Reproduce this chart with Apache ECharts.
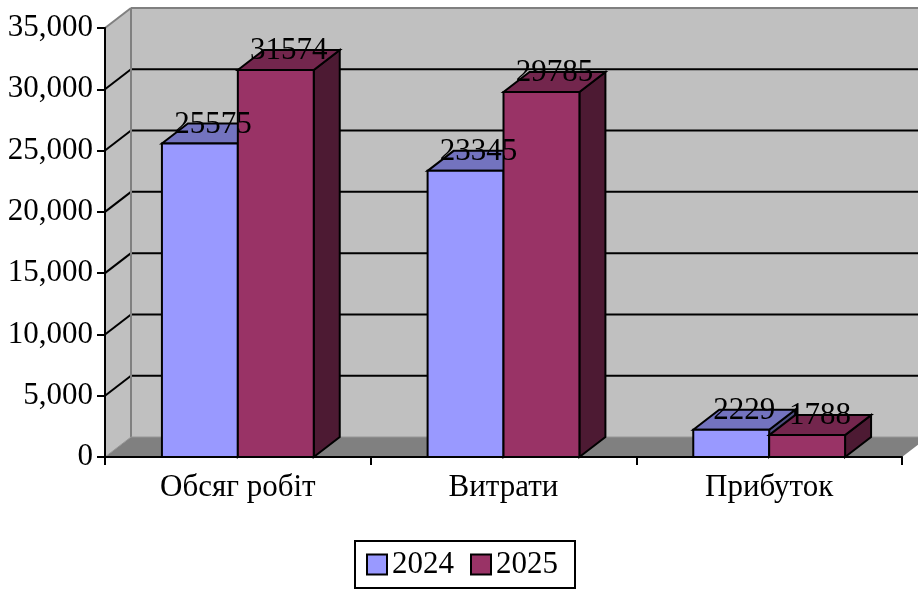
<!DOCTYPE html>
<html>
<head>
<meta charset="utf-8">
<style>html,body{margin:0;padding:0;background:#fff}#chart{width:918px;height:593px}</style>
<script src="https://cdn.jsdelivr.net/npm/echarts@6/dist/echarts.min.js"></script>
</head>
<body>
<div id="chart"></div>
<script>
const categories = ['Обсяг робіт', 'Витрати', 'Прибуток'];
const values2024 = [25575, 23345, 2229];
const values2025 = [31574, 29785, 1788];
const yTicks = [5000, 10000, 15000, 20000, 25000, 30000];
const yMax = 35000;

// oblique projection offset of the chart's depth axis, in pixels
const DEPTH_X = 26;
const DEPTH_Y = 20;
const FONT = '"Liberation Serif", "Times New Roman", serif';
const FONT_SIZE = 31;
const GAP_WIDTH = 1.5;

function poly(points, fill, stroke, lineWidth) {
  return {
    type: 'polygon',
    shape: { points },
    style: { fill, stroke, lineWidth, lineJoin: 'miter' }
  };
}

function segment(a, b, stroke, lineWidth) {
  return {
    type: 'line',
    shape: { x1: a[0], y1: a[1], x2: b[0], y2: b[1] },
    style: { stroke, lineWidth, lineCap: 'butt' }
  };
}

// Walls, floor and depth-wise grid lines behind the bars
function renderWalls(params, api) {
  const origin = api.coord([0, 0]);
  const band = api.size([1, 0])[0];
  const x0 = origin[0] - band / 2;
  const y0 = origin[1];
  const x1 = x0 + band * categories.length;
  const yTop = api.coord([0, yMax])[1];
  const bx0 = x0 + DEPTH_X, bx1 = x1 + DEPTH_X;
  const edge = '#808080';
  const children = [
    poly([[bx0, yTop - DEPTH_Y], [bx1, yTop - DEPTH_Y], [bx1, y0 - DEPTH_Y], [bx0, y0 - DEPTH_Y]], '#c0c0c0'),
    poly([[x0, yTop], [bx0, yTop - DEPTH_Y], [bx0, y0 - DEPTH_Y], [x0, y0]], '#c0c0c0'),
    poly([[x0, y0], [bx0, y0 - DEPTH_Y], [bx1, y0 - DEPTH_Y], [x1, y0]], '#808080')
  ];
  yTicks.forEach(function (t) {
    const y = api.coord([0, t])[1];
    children.push(segment([x0, y], [bx0, y - DEPTH_Y], '#000', 2));
    children.push(segment([bx0, y - DEPTH_Y], [bx1, y - DEPTH_Y], '#000', 2));
  });
  children.push(segment([x0, yTop], [bx0, yTop - DEPTH_Y], edge, 2));
  children.push(segment([bx0, yTop - DEPTH_Y], [bx1, yTop - DEPTH_Y], edge, 2));
  children.push(segment([bx0, yTop - DEPTH_Y], [bx0, y0 - DEPTH_Y], edge, 2));
  children.push(segment([bx0, y0 - DEPTH_Y], [bx1, y0 - DEPTH_Y], '#969696', 1));
  children.push(segment([x0, y0], [bx0, y0 - DEPTH_Y], '#969696', 1));
  return { type: 'group', children };
}

// One extruded bar: front, top and side faces plus its value label
function makeBarRenderer(slot, faces) {
  return function (params, api) {
    const cat = api.value(0);
    const val = api.value(1);
    const band = api.size([1, 0])[0];
    const base = api.coord([cat, 0]);
    const top = api.coord([cat, val]);
    const barW = band / (2 + GAP_WIDTH);
    const xl = base[0] - barW + slot * barW;
    const xr = xl + barW;
    const yb = base[1], yt = top[1];
    return {
      type: 'group',
      children: [
        poly([[xr, yb], [xr + DEPTH_X, yb - DEPTH_Y], [xr + DEPTH_X, yt - DEPTH_Y], [xr, yt]], faces.side, '#000', 2),
        poly([[xl, yt], [xl + DEPTH_X, yt - DEPTH_Y], [xr + DEPTH_X, yt - DEPTH_Y], [xr, yt]], faces.top, '#000', 2),
        poly([[xl, yb], [xl, yt], [xr, yt], [xr, yb]], faces.front, '#000', 2),
        {
          type: 'text',
          z2: 100,
          style: {
            text: String(val),
            x: (xl + xr) / 2 + DEPTH_X / 2,
            y: yt - DEPTH_Y + 1,
            align: 'center',
            verticalAlign: 'middle',
            font: FONT_SIZE + 'px ' + FONT,
            fill: '#000'
          }
        }
      ]
    };
  };
}

const faces2024 = { front: '#9999ff', top: '#7373bf', side: '#4d4d80' };
const faces2025 = { front: '#993366', top: '#73264d', side: '#4d1a33' };

function rows(values) {
  return values.map(function (v, i) { return [i, v]; });
}

const chart = echarts.init(document.getElementById('chart'), null, { renderer: 'canvas' });
chart.setOption({
  animation: false,
  backgroundColor: '#fff',
  textStyle: { fontFamily: FONT },
  grid: { left: 105, top: 28, width: 797, height: 429, containLabel: false },
  xAxis: {
    type: 'category',
    data: categories,
    z: 1,
    axisLine: { show: true, lineStyle: { color: '#000', width: 2 } },
    axisTick: { show: true, length: 8, lineStyle: { color: '#000', width: 2 } },
    axisLabel: { color: '#000', fontSize: FONT_SIZE, fontFamily: FONT, margin: 15 },
    splitLine: { show: false }
  },
  yAxis: {
    type: 'value',
    min: 0,
    max: yMax,
    interval: 5000,
    z: 1,
    axisLine: { show: true, onZero: false, lineStyle: { color: '#000', width: 2 } },
    axisTick: { show: true, length: 8, lineStyle: { color: '#000', width: 2 } },
    axisLabel: { color: '#000', fontSize: FONT_SIZE, fontFamily: FONT, margin: 12 },
    splitLine: { show: false }
  },
  legend: {
    left: 355,
    top: 541,
    padding: [8, 17, 8, 11],
    itemWidth: 20,
    itemHeight: 20,
    itemGap: 16,
    borderColor: '#000',
    borderWidth: 2,
    backgroundColor: '#fff',
    icon: 'rect',
    itemStyle: { borderColor: '#000', borderWidth: 2 },
    textStyle: { color: '#000', fontSize: FONT_SIZE, fontFamily: FONT, padding: [0, 0, 0, 0] },
    data: ['2024', '2025']
  },
  series: [
    {
      type: 'custom',
      name: 'walls',
      z: 0,
      silent: true,
      clip: false,
      renderItem: renderWalls,
      data: [[0, 0]],
      encode: { x: 0, y: 1 }
    },
    {
      type: 'custom',
      name: '2024',
      z: 2,
      clip: false,
      itemStyle: { color: faces2024.front },
      renderItem: makeBarRenderer(0, faces2024),
      data: rows(values2024),
      encode: { x: 0, y: 1 }
    },
    {
      type: 'custom',
      name: '2025',
      z: 2,
      clip: false,
      itemStyle: { color: faces2025.front },
      renderItem: makeBarRenderer(1, faces2025),
      data: rows(values2025),
      encode: { x: 0, y: 1 }
    }
  ]
});
</script>
</body>
</html>
